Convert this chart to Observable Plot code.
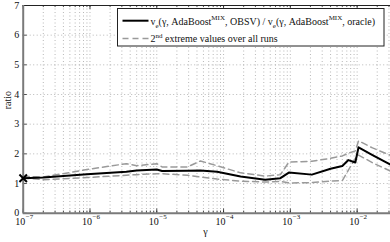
<!DOCTYPE html>
<html><head><meta charset="utf-8">
<script src="https://cdn.jsdelivr.net/npm/d3@7"></script>
<script src="https://cdn.jsdelivr.net/npm/@observablehq/plot@0.6"></script>
<style>
html,body{margin:0;padding:0;background:#fff;}
#chart svg{display:block;}
</style></head><body><div id="chart"></div>
<script>
// gamma values (x) and ratio series (y)
const gamma = [1e-7, 2e-7, 9e-7, 3.5e-6, 5e-6, 1e-5, 1.2e-5, 2.9e-5, 4.5e-5, 8e-5, 1.8e-4, 4.2e-4, 7.1e-4, 9.5e-4, 2.1e-3, 4e-3, 6e-3, 7.4e-3, 9.4e-3, 1.05e-2, 1.7e-2, 3.16e-2];
const ratioMean  = [1.18, 1.20, 1.31, 1.40, 1.44, 1.47, 1.42, 1.43, 1.44, 1.40, 1.24, 1.13, 1.18, 1.37, 1.30, 1.50, 1.59, 1.79, 1.71, 2.22, 1.96, 1.64];
const ratioUpper = [1.24, 1.22, 1.47, 1.67, 1.60, 1.67, 1.56, 1.56, 1.76, 1.60, 1.36, 1.25, 1.30, 1.72, 1.75, 1.85, 1.93, 2.02, 2.10, 2.44, 2.20, 1.95];
const ratioLower = [1.19, 1.13, 1.20, 1.28, 1.30, 1.33, 1.33, 1.28, 1.22, 1.15, 1.08, 1.05, 1.07, 1.02, 1.03, 1.08, 1.10, 1.45, 1.85, 1.96, 1.70, 1.42];

const yTicks = [0, 1, 2, 3, 4, 5, 6, 7];
const xDecades = [1e-7, 1e-6, 1e-5, 1e-4, 1e-3, 1e-2];
const xExponents = ["\u22127", "\u22126", "\u22125", "\u22124", "\u22123", "\u22122"];
const xDomain = [1e-7, 0.0316];
const xMinor = xDecades.flatMap(d => [1,2,3,4,5,6,7,8,9].map(k => k * d)).filter(v => v <= xDomain[1]);

const rows = gamma.map((g, i) => ({g, mean: ratioMean[i], up: ratioUpper[i], lo: ratioLower[i]}));

const FONT = "'Liberation Serif', 'Times New Roman', serif";
const gridStyle = {stroke: "#9a9a9a", strokeWidth: 0.7, strokeDasharray: "1,2.5"};
const tickLen = 10 ** (4 / 66.8);
const axisCol = "#7a7a7a";

const chart = Plot.plot({
  width: 390, height: 242,
  marginLeft: 22.7, marginRight: 0, marginTop: 5, marginBottom: 29.3,
  style: {fontFamily: FONT, fontSize: "10px", background: "white", color: "#111"},
  x: {type: "log", domain: xDomain, axis: null},
  y: {domain: [0, 7], axis: null},
  marks: [
    Plot.ruleY(yTicks.slice(1, -1), gridStyle),
    Plot.ruleX(xMinor.slice(1), gridStyle),
    // inward ticks
    Plot.ruleY(yTicks, {x1: xDomain[0], x2: xDomain[0] * tickLen, stroke: "#222", strokeWidth: 0.8}),
    Plot.ruleX(xDecades, {y1: 0, y2: 0.14, stroke: "#222", strokeWidth: 0.8}),
    Plot.ruleX(xMinor, {y1: 0, y2: 0.07, stroke: "#222", strokeWidth: 0.8}),
    Plot.ruleX(xDecades, {y1: 7, y2: 6.86, stroke: "#222", strokeWidth: 0.8}),
    Plot.ruleX(xMinor, {y1: 7, y2: 6.93, stroke: "#222", strokeWidth: 0.8}),
    // frame
    Plot.ruleY([7], {stroke: "#222", strokeWidth: 1}),
    Plot.ruleX([xDomain[0]], {stroke: axisCol, strokeWidth: 2}),
    Plot.ruleY([0], {stroke: axisCol, strokeWidth: 2}),
    // data
    Plot.line(rows, {x: "g", y: "up", stroke: "#9a9a9a", strokeWidth: 1.5, strokeDasharray: "6,4"}),
    Plot.line(rows, {x: "g", y: "lo", stroke: "#9a9a9a", strokeWidth: 1.5, strokeDasharray: "6,4"}),
    Plot.line(rows, {x: "g", y: "mean", stroke: "black", strokeWidth: 2}),
    Plot.dot(rows.slice(0, 1), {x: "g", y: "mean", symbol: "times", r: 3.5, stroke: "black", strokeWidth: 2}),
    // y tick labels
    Plot.text(yTicks, {x: xDomain[0], y: d => d, text: d => String(d), textAnchor: "end", dx: -4, fontSize: 10, fill: "#111"}),
    // x tick labels: 10 with superscript exponent
    Plot.text(xDecades, {x: d => d, frameAnchor: "bottom", text: () => "10", textAnchor: "end", dx: 2, dy: 12, fontSize: 10, fill: "#111"}),
    Plot.text(xDecades, {x: d => d, frameAnchor: "bottom", text: (d, i) => xExponents[i], textAnchor: "start", dx: 2.5, dy: 6, fontSize: 7, fill: "#111"}),
    // axis titles
    Plot.text(["\u03b3"], {frameAnchor: "bottom", text: d => d, dy: 22, dx: -1.5, fontSize: 10, fill: "#111"}),
    Plot.text(["ratio"], {frameAnchor: "left", text: d => d, rotate: -90, dx: -15, fontSize: 10, fill: "#111"})
  ]
});
document.getElementById("chart").appendChild(chart);

// legend
const svg = d3.select(chart);
const lg = svg.append("g").attr("font-family", FONT).attr("font-size", 10).attr("fill", "#111").attr("text-anchor", "start");
lg.append("rect").attr("x", 117.5).attr("y", 8.5).attr("width", 266.5).attr("height", 37.5)
  .attr("fill", "white").attr("stroke", "#222").attr("stroke-width", 1);
lg.append("line").attr("x1", 122.5).attr("x2", 148.5).attr("y1", 20.7).attr("y2", 20.7)
  .attr("stroke", "black").attr("stroke-width", 2);
lg.append("line").attr("x1", 122.5).attr("x2", 148.5).attr("y1", 38.5).attr("y2", 38.5)
  .attr("stroke", "#9a9a9a").attr("stroke-width", 1.5).attr("stroke-dasharray", "6,4");
const legendLine1 = [
  ["v", 0, 10], ["e", 3, 7], ["(\u03b3, AdaBoost", -3, 10], ["MIX", -5, 7], [", OBSV) / v", 5, 10],
  ["e", 3, 7], ["(\u03b3, AdaBoost", -3, 10], ["MIX", -5, 7], [", oracle)", 5, 10]
];
const t1 = lg.append("text").attr("x", 150.5).attr("y", 24.5);
legendLine1.forEach(([s, dy, fs]) => t1.append("tspan").attr("dy", dy).attr("font-size", fs).text(s));
const legendLine2 = [["2", 0, 10], ["nd", -4, 7], [" extreme values over all runs", 4, 10]];
const t2 = lg.append("text").attr("x", 150.5).attr("y", 42.3);
legendLine2.forEach(([s, dy, fs]) => t2.append("tspan").attr("dy", dy).attr("font-size", fs).text(s));
</script>
</body></html>
